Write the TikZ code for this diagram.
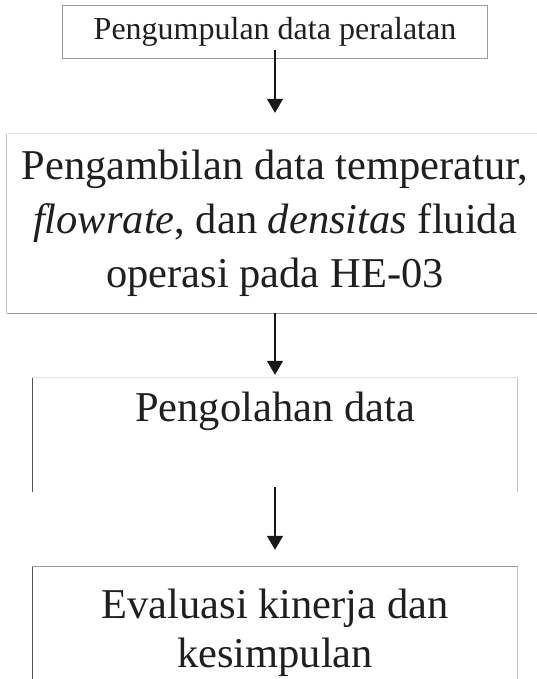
\documentclass[tikz,border=0pt]{standalone}
\usepackage{fontspec}
\setmainfont{Liberation Serif}
\usetikzlibrary{arrows.meta,positioning}
\definecolor{edgefaint}{HTML}{E4E4E4}
\definecolor{edgelight}{HTML}{C4C4C4}
\definecolor{edgemid}{HTML}{9C9C9C}
\definecolor{edgedark}{HTML}{555555}

\begin{document}
\begin{tikzpicture}[x=1pt,y=-1pt,
			box node/.style={rectangle, draw=none, align=center, text=black!88, inner sep=0pt},
			small text/.style={font=\fontsize{32}{38}\selectfont},
			big text/.style={font=\fontsize{42.5}{54}\selectfont},
			flow/.style={line width=1.3pt, black!90, -{Triangle[width=16pt,length=14pt]}},
			frame/.style={line width=1pt}]
			\useasboundingbox (0,0) rectangle (537,679);
			
			\node[box node,small text,minimum width=424pt,minimum height=52pt] (1) at (275,32) {Pengumpulan data peralatan};
			\node[box node,big text,minimum width=536pt,minimum height=179pt] (2) at (275,223.5) {Pengambilan data temperatur,\\\textit{flowrate}, dan \textit{densitas} fluida\\operasi pada HE-03};
			\node[box node,big text,minimum width=485pt,text height=43pt,text depth=71pt] (3) at (275,435) {Pengolahan data};
			\node[box node,font=\fontsize{42.5}{49}\selectfont,minimum width=485pt,minimum height=132pt] (4) at (275,633) {Evaluasi kinerja dan\\kesimpulan};
			
			% box outlines
			\draw[frame,edgemid] (1.south west) rectangle (1.north east);
			\draw[frame,edgelight] (2.south west) -- (2.north west);
			\draw[frame,edgefaint] (2.north west) -- (2.north east);
			\draw[frame,edgemid] (2.south west) -- (2.south east);
			\draw[frame,edgefaint] (3.north west) -- (3.north east);
			\draw[frame,edgedark,line width=1.4pt] (3.north west) -- (3.south west);
			\draw[frame,edgelight,line width=1.4pt] (3.north east) -- (3.south east);
			\draw[frame,edgemid] (4.north west) -- (4.north east);
			\draw[frame,edgedark] (4.north west) -- (4.south west);
			\draw[frame,edgelight,line width=1.4pt] (4.north east) -- (4.south east);
			
			\draw[flow] ([yshift=8pt]1.south) -- ([yshift=21pt]2.north);
			\draw[flow] (2.south) -- ([yshift=3pt]3.north);
			\draw[flow] ([yshift=5pt]3.south) -- ([yshift=17pt]4.north);
		\end{tikzpicture}
\end{document}
